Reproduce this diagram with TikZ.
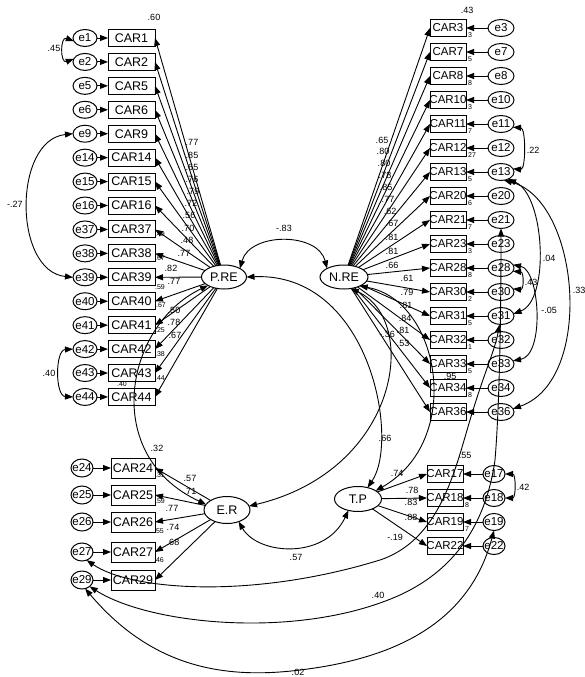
\documentclass[tikz,border=0pt]{standalone}
\usepackage{fontspec}
\setmainfont{Liberation Sans}
\usetikzlibrary{arrows.meta,shapes.geometric}
\begin{document}
\begin{tikzpicture}[x=1pt,y=-1pt,
  every node/.style={inner sep=0pt,outer sep=0pt},
  obs/.style={draw,line width=1pt,rectangle,minimum width=47pt,minimum height=17pt,font=\fontsize{12.5}{12.5}\selectfont},
  robs/.style={obs,minimum width=36pt,font=\fontsize{11.5}{11.5}\selectfont},
  err/.style={draw,line width=1pt,ellipse,minimum width=24pt,minimum height=17pt,font=\fontsize{11.5}{11.5}\selectfont},
  lat/.style={draw,line width=1pt,ellipse,minimum width=46pt,minimum height=24pt,font=\fontsize{12.5}{12.5}\selectfont},
  arr/.style={line width=0.9pt,-{Triangle[length=8pt,width=6pt]}},
  cov/.style={line width=0.9pt,{Triangle[length=8pt,width=6pt]}-{Triangle[length=8pt,width=6pt]}},
  lab/.style={font=\fontsize{9}{9}\selectfont},
  sm/.style={font=\fontsize{7}{7}\selectfont},
]
\useasboundingbox (0,0) rectangle (584,677);

% latent variables
\node[lat,minimum width=45pt] (pre) at (224,277) {\makebox[0pt]{P.RE}};
\node[lat,minimum width=48pt] (nre) at (344,277) {\makebox[0pt]{N.RE}};
\node[lat,minimum height=27pt] (er) at (227,510) {\makebox[0pt]{E.R}};
\node[lat,minimum width=47pt,minimum height=25pt] (tp) at (358,499) {\makebox[0pt]{T.P}};

% P.RE indicators
\foreach \n [count=\i from 0] in {1,2,5,6,9,14,15,16,37,38,39,40,41,42,43,44} {
  \pgfmathsetmacro\yy{38+23.93*\i}
  \node[obs] (c\n) at (131.5,\yy) {CAR\n};
  \node[err] (e\n) at (85,\yy) {\makebox[0pt]{e\n}};
  \draw[arr] (e\n) -- (c\n);
  \draw[arr] (pre) -- (c\n.east);
}
% N.RE indicators
\foreach \n [count=\i from 0] in {3,7,8,10,11,12,13,20,21,23,28,30,31,32,33,34,36} {
  \pgfmathsetmacro\yy{28+24*\i}
  \node[robs] (c\n) at (448,\yy) {\makebox[0pt]{CAR\n}};
  \node[err,minimum width=26pt] (e\n) at (501,\yy) {\makebox[0pt]{e\n}};
  \draw[arr] (e\n) -- (c\n);
  \draw[arr] (nre) -- (c\n.west);
}
% E.R indicators
\foreach \n/\yy in {24/468,25/495,26/522,27/552,29/580} {
  \node[obs,minimum width=44pt,minimum height=20pt] (c\n) at (133,\yy) {CAR\n};
  \node[err,minimum width=22pt,minimum height=18pt] (e\n) at (82,\yy) {\makebox[0pt]{e\n}};
  \draw[arr] (e\n) -- (c\n);
  \draw[arr] (er) -- (c\n.east);
}
% T.P indicators
\foreach \n/\yy in {17/474,18/498,19/522,22/546} {
  \node[robs] (c\n) at (445,\yy) {\makebox[0pt]{CAR\n}};
  \node[err,minimum width=22pt] (e\n) at (494,\yy) {\makebox[0pt]{e\n}};
  \draw[arr] (e\n) -- (c\n);
  \draw[arr] (tp) -- (c\n.west);
}

% latent covariances
\draw[cov] (pre.north east) .. controls (250,232) and (318,232) .. (nre.north west);
\draw[cov] (pre.south west) .. controls (125,325) and (100,455) .. (er.165);
\draw[cov] (pre.east) .. controls (370,272) and (400,440) .. (tp.50);
\draw[cov] (nre.-60) .. controls (420,320) and (400,470) .. (er.10);
\draw[cov] (nre.-30) .. controls (440,300) and (465,440) .. (tp.25);
\draw[cov] (er.-45) .. controls (258,555) and (325,560) .. (tp.-130);

% error covariances, left
\draw[cov] (e1.195) .. controls (60,36) and (60,64) .. (e2.165);
\draw[cov] (e9.west) .. controls (13,140) and (13,271) .. (e39.west);
\draw[cov] (e42.west) .. controls (55,350) and (55,396) .. (e44.west);
% error covariances, right
\draw[cov] (e11.-15) .. controls (526,128) and (526,170) .. (e13.15);
\draw[cov] (e28.-15) .. controls (524,272) and (524,290) .. (e30.15);
\draw[cov] (e13.-45) .. controls (545,195) and (550,300) .. (e31.10);
\draw[cov] (e13.-70) .. controls (580,200) and (595,380) .. (e36.15);
\draw[cov] (e28.15) .. controls (540,270) and (545,355) .. (e33.15);
\draw[cov] (e17.east) .. controls (516,474) and (516,498) .. (e18.east);
% long error covariances
\draw[cov] (e27.-60) .. controls (130,590) and (250,600) .. (380,560) .. controls (440,540) and (455,470) .. (470,420) .. controls (485,370) and (495,350) .. (e31.-100);
\draw[cov] (e29.-40) .. controls (150,625) and (300,640) .. (400,595) .. controls (450,572) and (485,530) .. (495,460) .. controls (500,400) and (501,300) .. (e21.south);
\draw[cov] (e29.-70) .. controls (150,665) and (220,680) .. (300,670) .. controls (400,658) and (470,620) .. (e19.south);

% labels
\foreach \t/\x/\y [count=\k] in {
 .60/154/17, .43/467/10,
 .77/192/142, .85/192/155, .65/192/167, .76/192/179, .79/193/191, .72/191/203,
 .56/189/215, .70/188/228, .48/187/240, .77/184/253, .82/171/268, .77/174/281,
 .50/174/310, .78/174/322, .67/175/335,
 .65/382/140, .80/383/151, .80/384/163, .78/385/175, .85/386/187, .77/388/199,
 .62/390/211, .67/392/223, .81/392/237, .81/392/251, .66/392/265, .61/407/278,
 .79/407/292, .81/406/305, .84/405/318, .81/403/330, .53/403/343,
 -.83/284/228, .32/157/448, .66/385/438, -.36/387/334, .95/450/376, .57/296/557,
 .74/397/473, .78/412/490, .83/411/502, .88/411/517, -.19/395/537, .55/465/455,
 .45/54/48, -.27/15/204, .40/49/373, .42/523/487, .22/533/150, .04/549/258,
 .33/579/290, .43/531/282, -.05/549/310, .40/378/595, .02/298/672,
 .57/190/478, .71/190/491, .77/172/508, .74/173/527, .68/173/542}
  \node[lab] (lb\k) at (\x,\y) {\t};

\foreach \t/\x/\y [count=\k] in {
 .49/160/234, .67/160/258, .59/160/287, .67/161/305, .25/160/330, .38/160/354,
 .44/160/378, .40/122/384, .31/160/475, .59/160/501, .55/159/531, .46/159/560,
 3/470/35, 5/470/59, 8/470/83, 3/470/107, 7/470/131, 27/472/155, 5/470/179,
 6/470/203, 7/470/227, 3/470/251, 8/470/275, 2/470/299, 5/470/323, 1/470/347,
 5/470/371, 8/470/395, 8/467/505, 7/467/529}
  \node[sm] (sm\k) at (\x,\y) {\t};
\end{tikzpicture}
\end{document}
